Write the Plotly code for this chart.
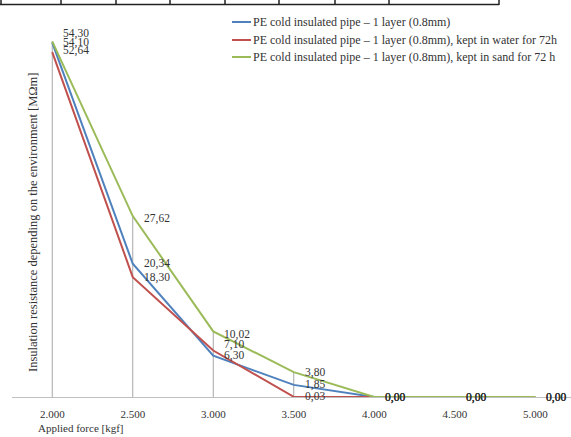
import plotly.graph_objects as go

# ---- data ----
categories = ["2.000", "2.500", "3.000", "3.500", "4.000", "4.500", "5.000"]
series_names = [
    "PE cold insulated pipe \u2013 1 layer (0.8mm)",
    "PE cold insulated pipe \u2013 1 layer (0.8mm), kept in water for 72h",
    "PE cold insulated pipe \u2013 1 layer (0.8mm), kept in sand for 72 h",
]
blue_vals = [54.10, 20.34, 6.30, 1.85, 0.00, 0.00, 0.00]
red_vals = [52.64, 18.30, 7.10, 0.03, 0.00, 0.00, 0.00]
green_vals = [54.30, 27.62, 10.02, 3.80, 0.00, 0.00, 0.00]
x_title = "Applied force [kgf]"
y_title = "Insulation resistance depending on the environment [M\u03a9m]"

# ---- style ----
colors = ["#4F81BD", "#C0504D", "#9BBB59"]
FONT = "Liberation Serif, Times New Roman, serif"
TXT = "#333333"
W, H = 571, 437
L, R, T, B = 12, 0, 4, 40
PW, PH = W - L - R, H - T - B
Y0 = H - B  # pixel of y=0

def px(x):
    return (x - L) / PW

def py(y):
    return (Y0 - y) / PH

# vertical label nudges (pixels, + = up) per series per point
label_shift = [
    [0, 0, 0, 0, 0, 0, 0],
    [2, 0, 6, 0, 0, 0, 0],
    [8, -2, -3, 0, 0, 0, 0],
]

xs = list(range(len(categories)))
all_series = [blue_vals, red_vals, green_vals]

fig = go.Figure()

# drop lines
dx, dy = [], []
for i in xs:
    top = max(s[i] for s in all_series)
    dx += [i, i, None]
    dy += [0, top, None]
fig.add_trace(go.Scatter(x=dx, y=dy, mode="lines", line=dict(color="#A6A6A6", width=1),
                         hoverinfo="skip", showlegend=False))

for name, vals, c in zip(series_names, all_series, colors):
    fig.add_trace(go.Scatter(x=xs, y=vals, mode="lines", name=name,
                             line=dict(color=c, width=2), showlegend=False))

annotations = []
for si, vals in enumerate(all_series):
    for i, v in enumerate(vals):
        annotations.append(dict(
            x=i, y=v, xref="x", yref="y", text=f"{v:.2f}".replace(".", ","),
            showarrow=False, xanchor="left", yanchor="middle", xshift=9,
            yshift=label_shift[si][i], font=dict(family=FONT, size=11.5, color=TXT)))

# legend (manual)
shapes = []
leg_y = [22, 40, 57]
for name, c, yy in zip(series_names, colors, leg_y):
    shapes.append(dict(type="line", xref="paper", yref="paper",
                       x0=px(232), x1=px(251), y0=py(yy), y1=py(yy),
                       line=dict(color=c, width=2)))
    annotations.append(dict(x=px(251), y=py(yy), xref="paper", yref="paper",
                            text=name, showarrow=False, xanchor="left", yanchor="middle",
                            font=dict(family=FONT, size=12, color=TXT)))

# axis titles
annotations.append(dict(x=px(36), y=py(428), xref="paper", yref="paper", text=x_title,
                        showarrow=False, xanchor="left", yanchor="middle",
                        font=dict(family=FONT, size=11, color=TXT)))
annotations.append(dict(x=px(33), y=py(222), xref="paper", yref="paper", text=y_title,
                        showarrow=False, textangle=-90, xanchor="center", yanchor="middle",
                        font=dict(family=FONT, size=12.5, color=TXT)))

# table strip at top (cropped from page)
for xv in [1, 61, 116, 170, 225, 279, 335, 389, 499]:
    shapes.append(dict(type="line", xref="paper", yref="paper",
                       x0=px(xv), x1=px(xv), y0=py(0), y1=py(5),
                       line=dict(color="#222222", width=1.5)))
shapes.append(dict(type="line", xref="paper", yref="paper",
                   x0=px(0), x1=px(499), y0=py(4.5), y1=py(4.5),
                   line=dict(color="#222222", width=1.5)))

fig.update_layout(
    width=W, height=H,
    margin=dict(l=L, r=R, t=T, b=B),
    paper_bgcolor="white", plot_bgcolor="white",
    annotations=annotations, shapes=shapes,
    font=dict(family=FONT, size=11, color=TXT),
)
fig.update_xaxes(range=[-0.5, -0.5 + PW / 80.5], tickvals=xs, ticktext=categories,
                 showgrid=False, zeroline=False, showline=True, linecolor="#BFBFBF",
                 linewidth=1, ticks="", ticklabelstandoff=7,
                 tickfont=dict(family=FONT, size=11, color=TXT))
fig.update_yaxes(range=[0, 60], showgrid=False, zeroline=False, showline=False,
                 showticklabels=False, ticks="")

fig.write_html("out.html", config={"displayModeBar": False},
               post_script="document.body.style.margin='0';")
